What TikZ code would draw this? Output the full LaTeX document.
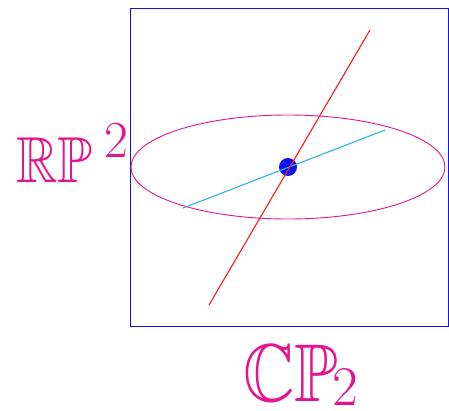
\documentclass[tikz,border=0pt]{standalone}
\usepackage{amssymb}
\usepackage{xcolor}
\usepackage{tikz}
\definecolor{PMagenta}{HTML}{E6148C}
\definecolor{PCyan}{HTML}{2CB4E6}
\definecolor{PRed}{HTML}{FF1A1A}
\definecolor{PBlue}{HTML}{1010F0}
\newcommand{\bigtxt}[1]{\fontsize{#1}{#1}\selectfont}

\begin{document}
\begin{tikzpicture}[
  x=1pt,y=-1pt,
  frame/.style={draw=PBlue,line width=0.9pt},
  conic/.style={draw=PMagenta,line width=0.9pt},
  realline/.style={draw=PCyan,line width=1.1pt},
  cxline/.style={draw=PRed,line width=1.1pt},
  pt/.style={circle,fill=PBlue,inner sep=0pt,minimum size=18pt},
  lbl/.style={text=PMagenta,inner sep=0pt}
]
  \useasboundingbox (0,0) rectangle (449,410);
  \draw[frame] (130,8) rectangle (448,326);
  \coordinate (c) at (288,167);
  \draw[conic] (c) ellipse [x radius=157,y radius=52];
  \coordinate (r1) at (209,305);
  \coordinate (r2) at (370,30);
  \coordinate (b1) at (183,208);
  \coordinate (b2) at (385,130);
  \node[pt] (p) at (c) {};
  \draw[realline] (b1) -- (b2);
  \draw[cxline] (r1) -- (r2);
  \node[lbl,anchor=base west] (rp) at (16,182)
    {\scalebox{0.88}[1]{\bigtxt{65}$\mathbb{RP}$}\hspace{12pt}\raisebox{25pt}{\bigtxt{52}2}};
  \node[lbl,anchor=base west] (cp) at (243,401)
    {\scalebox{0.87}[1]{\bigtxt{82}$\mathbb{CP}$}\hspace{-6pt}\raisebox{-4pt}[0pt][0pt]{\bigtxt{56}2}};
\end{tikzpicture}
\end{document}
